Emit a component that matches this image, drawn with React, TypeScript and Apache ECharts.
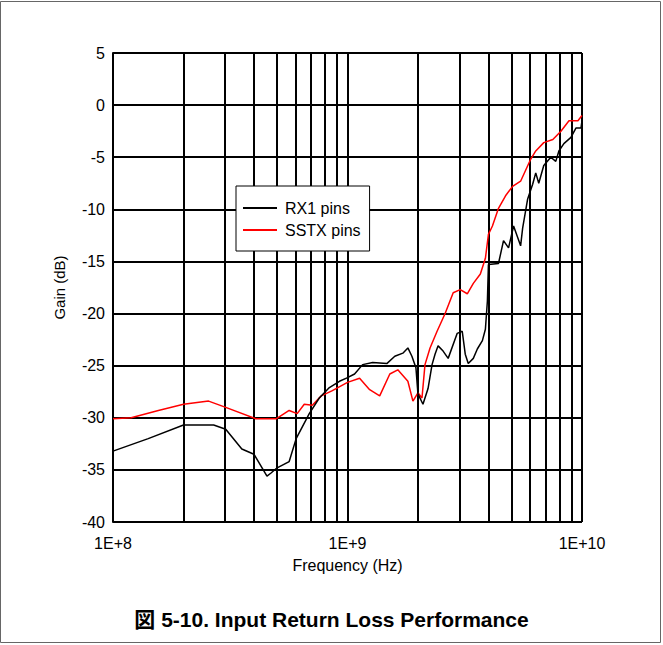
import React, { useEffect, useRef } from "react";
import * as echarts from "echarts";

const rxFreq = [1e8, 1.413e8, 1.998e8, 2.687e8, 3.025e8, 3.543e8, 3.99e8, 4.535e8, 4.72e8, 5.01e8, 5.64e8, 6.04e8, 6.87e8, 7.58e8, 8.37e8, 9.24e8, 9.9e8, 1.072e9, 1.16e9, 1.28e9, 1.471e9, 1.591e9, 1.722e9, 1.809e9, 1.882e9, 1.958e9, 1.997e9, 2.098e9, 2.205e9, 2.294e9, 2.362e9, 2.434e9, 2.557e9, 2.687e9, 2.937e9, 3.085e9, 3.178e9, 3.273e9, 3.44e9, 3.578e9, 3.76e9, 3.873e9, 3.95e9, 3.99e9, 4.404e9, 4.627e9, 4.862e9, 5.108e9, 5.473e9, 5.583e9, 5.865e9, 6.16e9, 6.35e9, 6.54e9, 6.87e9, 7.36e9, 7.73e9, 7.97e9, 8.37e9, 8.97e9, 9.42e9, 9.9e9, 1e10];
const rxGain = [-33.2, -32.0, -30.7, -30.7, -31.1, -33.0, -33.5, -35.6, -35.3, -34.8, -34.2, -32.0, -29.6, -28.1, -27.1, -26.5, -26.2, -25.8, -24.9, -24.7, -24.8, -24.1, -23.8, -23.3, -24.1, -25.2, -27.7, -28.7, -27.2, -24.9, -23.9, -23.1, -23.6, -24.3, -21.9, -21.7, -23.9, -24.8, -24.3, -23.4, -22.6, -21.5, -18.8, -15.3, -15.2, -13.0, -13.7, -11.6, -13.5, -11.8, -9.0, -7.6, -6.5, -7.5, -5.8, -5.0, -5.4, -4.4, -3.7, -3.1, -2.2, -2.2, -1.5];

const sstxFreq = [1e8, 1.195e8, 1.561e8, 1.998e8, 2.557e8, 3.025e8, 4.07e8, 4.96e8, 5.64e8, 6.1e8, 6.54e8, 7.08e8, 7.73e8, 8.62e8, 1.0e9, 1.126e9, 1.243e9, 1.372e9, 1.515e9, 1.639e9, 1.809e9, 1.901e9, 1.997e9, 2.078e9, 2.14e9, 2.249e9, 2.41e9, 2.608e9, 2.823e9, 3.025e9, 3.242e9, 3.44e9, 3.686e9, 3.873e9, 3.99e9, 4.15e9, 4.404e9, 4.72e9, 5.058e9, 5.473e9, 6.04e9, 6.35e9, 6.87e9, 7.51e9, 8.13e9, 8.8e9, 9.61e9, 1e10];
const sstxGain = [-30.1, -30.0, -29.3, -28.7, -28.4, -29.0, -30.1, -30.1, -29.3, -29.6, -28.7, -28.8, -27.9, -27.4, -26.6, -26.2, -27.3, -27.9, -25.8, -25.4, -26.5, -28.4, -27.6, -28.1, -24.9, -23.3, -21.7, -20.0, -18.0, -17.7, -18.1, -17.1, -16.2, -14.7, -12.4, -11.6, -9.9, -8.7, -7.8, -7.3, -5.2, -4.4, -3.6, -3.3, -2.5, -1.5, -1.5, -1.0];

const minorFreqs = [2e8, 3e8, 4e8, 5e8, 6e8, 7e8, 8e8, 9e8, 2e9, 3e9, 4e9, 5e9, 6e9, 7e9, 8e9, 9e9];
const seriesNames = ["RX1 pins", "SSTX pins"];
const titleText = "図 5-10. Input Return Loss Performance";

const FONT = "'Liberation Sans', Arial, 'Noto Sans CJK JP', sans-serif";

export default function App() {
  const ref = useRef<HTMLDivElement>(null);
  useEffect(() => {
    document.body.style.margin = "0";
    const chart = echarts.init(ref.current!, null, { renderer: "svg" });
    const rxData = rxFreq.map((f, i) => [f, rxGain[i]]);
    const sstxData = sstxFreq.map((f, i) => [f, sstxGain[i]]);
    chart.setOption({
      animation: false,
      backgroundColor: "#fff",
      textStyle: { fontFamily: FONT },
      grid: { left: 113, top: 53, width: 469, height: 469, show: false },
      title: {
        text: titleText,
        left: "center",
        top: 604,
        textStyle: { fontFamily: FONT, fontSize: 21, fontWeight: "bold", color: "#000" },
      },
      legend: {
        orient: "vertical",
        left: 236,
        top: 186,
        backgroundColor: "#fff",
        borderColor: "#000",
        borderWidth: 1,
        padding: [14, 9, 13, 7],
        itemGap: 6,
        itemWidth: 34,
        itemHeight: 2,
        icon: "rect",
        textStyle: { fontFamily: FONT, fontSize: 16, color: "#000", padding: [0, 0, 0, 3] },
        data: seriesNames,
      },
      graphic: [
        {
          type: "rect",
          shape: { x: 0.5, y: 1.5, width: 660, height: 641 },
          style: { fill: "none", stroke: "#666", lineWidth: 1 },
          silent: true,
        },
      ],
      xAxis: {
        type: "log",
        logBase: 10,
        min: 1e8,
        max: 1e10,
        name: "Frequency (Hz)",
        nameLocation: "middle",
        nameGap: 35,
        nameTextStyle: { fontFamily: FONT, fontSize: 16, color: "#000" },
        axisLine: { show: true, lineStyle: { color: "#000", width: 2 } },
        axisTick: { show: false },
        axisLabel: {
          fontFamily: FONT,
          fontSize: 16,
          color: "#000",
          margin: 13,
          formatter: (v: number) => "1E+" + Math.round(Math.log10(v)),
        },
        splitLine: { show: true, lineStyle: { color: "#000", width: 2 } },
      },
      yAxis: {
        type: "value",
        min: -40,
        max: 5,
        interval: 5,
        name: "Gain (dB)",
        nameLocation: "middle",
        nameGap: 46,
        nameTextStyle: { fontFamily: FONT, fontSize: 15, color: "#000" },
        axisLine: { show: true, lineStyle: { color: "#000", width: 2 } },
        axisTick: { show: false },
        axisLabel: { fontFamily: FONT, fontSize: 16, color: "#000", margin: 8 },
        splitLine: { show: true, lineStyle: { color: "#000", width: 2 } },
      },
      series: [
        {
          name: seriesNames[0],
          type: "line",
          data: rxData,
          symbol: "none",
          lineStyle: { color: "#000", width: 1.5 },
          itemStyle: { color: "#000" },
          z: 4,
          markLine: {
            silent: true,
            symbol: ["none", "none"],
            label: { show: false },
            lineStyle: { color: "#000", width: 2, type: "solid" },
            emphasis: { disabled: true },
            data: minorFreqs.map((f) => ({ xAxis: f })),
            z: 1,
          },
        },
        {
          name: seriesNames[1],
          type: "line",
          data: sstxData,
          symbol: "none",
          lineStyle: { color: "#ff0000", width: 1.5 },
          itemStyle: { color: "#ff0000" },
          z: 3,
        },
      ],
    });
    return () => chart.dispose();
  }, []);
  return <div ref={ref} style={{ width: 663, height: 645 }} />;
}
